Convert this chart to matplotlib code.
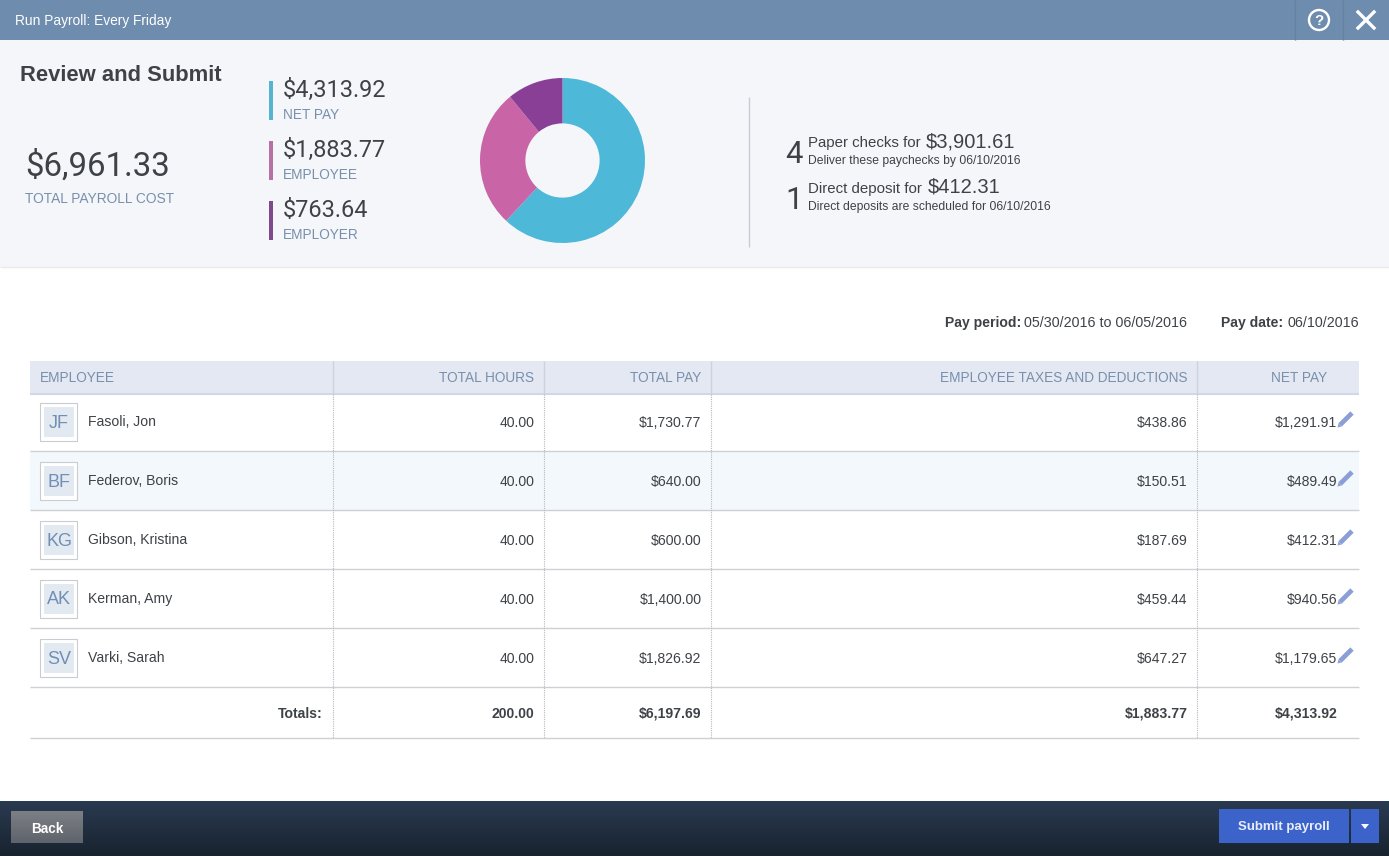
import numpy as np
import matplotlib
matplotlib.use('Agg')
import matplotlib.pyplot as plt
from matplotlib.patches import Rectangle, Circle, Polygon

employees = ['Fasoli, Jon', 'Federov, Boris', 'Gibson, Kristina', 'Kerman, Amy', 'Varki, Sarah']
initials = ['JF', 'BF', 'KG', 'AK', 'SV']
hours = ['40.00', '40.00', '40.00', '40.00', '40.00']
total_pay = ['$1,730.77', '$640.00', '$600.00', '$1,400.00', '$1,826.92']
taxes = ['$438.86', '$150.51', '$187.69', '$459.44', '$647.27']
net_pay = ['$1,291.91', '$489.49', '$412.31', '$940.56', '$1,179.65']
totals = ['200.00', '$6,197.69', '$1,883.77', '$4,313.92']
col_names = ['TOTAL HOURS', 'TOTAL PAY', 'EMPLOYEE TAXES AND DEDUCTIONS', 'NET PAY']
donut_labels = ['NET PAY', 'EMPLOYEE', 'EMPLOYER']
donut_text = ['$4,313.92', '$1,883.77', '$763.64']
donut_values = [4313.92, 1883.77, 763.64]
donut_colors = ['#4DB8D8', '#C965A6', '#8A3F96']
bar_colors = ['#55B4D0', '#B86FA5', '#7F4A8C']

W, H = 1389, 856
SANS = 'Liberation Sans'
NUM = 'Roboto'
DARK = '#3E4247'
BLUE = '#7890AC'

def px(size):  # font size in screen pixels
    return size * 0.72

fig = plt.figure(figsize=(W / 100, H / 100), dpi=100)
ax = fig.add_axes([0, 0, 1, 1])
ax.axis('off')

def box(x0, y0, x1, y1, color, **kw):
    ax.add_patch(Rectangle((x0, y0), x1 - x0, y1 - y0, facecolor=color, edgecolor=kw.pop('edge', 'none'), **kw))

def gradient(x0, y0, x1, y1, top, bottom):
    c0 = np.array(matplotlib.colors.to_rgb(top))
    c1 = np.array(matplotlib.colors.to_rgb(bottom))
    t = np.linspace(0, 1, 64)[:, None, None]
    ax.imshow(c0 + (c1 - c0) * t, extent=(x0, x1, y1, y0), aspect='auto', zorder=1)

def label(x, y, s, size, color=DARK, ha='left', family=SANS, weight='normal'):
    ax.text(x, y + 3, s, fontsize=px(size), color=color, ha=ha, va='center', family=family, weight=weight, zorder=5)

def vline(x, y0, y1, color, lw=1, **kw):
    ax.plot([x, x], [y0, y1], color=color, lw=lw, solid_capstyle='butt', **kw)

def hline(y, x0, x1, color, lw=1, **kw):
    ax.plot([x0, x1], [y, y], color=color, lw=lw, solid_capstyle='butt', **kw)

# title bar
box(0, 0, W, 40, '#6E8CAD')
box(0, 40, W, 267, '#F4F6FA')
hline(267, 0, W, '#E8EAEE', zorder=2)
label(15, 18, 'Run Payroll: Every Friday', 13.8, 'white')
for x in [1295, 1343]:
    vline(x, 0, 40, '#64829F', zorder=3)
ax.add_patch(Circle((1319, 20), 10, facecolor='none', edgecolor='white', lw=1.7, zorder=4))
label(1319, 18, '?', 15, 'white', ha='center', weight='bold')
ax.plot([1358, 1374], [12, 28], color='white', lw=2.4, zorder=4)
ax.plot([1358, 1374], [28, 12], color='white', lw=2.4, zorder=4)

# summary panel
label(20, 72, 'Review and Submit', 22, DARK, weight='bold')
label(25, 163, '$6,961.33', 33, DARK, family=NUM)
label(25, 196, 'TOTAL PAYROLL COST', 13.7, BLUE)
for i, y in enumerate([81, 141, 201]):
    box(269, y, 273, y + 39, bar_colors[i], zorder=3)
    label(283, y + 6, donut_text[i], 23.5, DARK, family=NUM)
    label(283, y + 31, donut_labels[i], 13.6, BLUE)

# donut
pie_ax = fig.add_axes([(562.5 - 84) / W, 1 - (160.5 + 84) / H, 168 / W, 168 / H])
pie_ax.pie(donut_values, colors=donut_colors, startangle=90, counterclock=False,
           radius=1.0, wedgeprops={'width': 0.55, 'linewidth': 0})
pie_ax.set_xlim(-84 / 82.5, 84 / 82.5)
pie_ax.set_ylim(-84 / 82.5, 84 / 82.5)

vline(749, 97, 247, '#C9CDD2')
label(785.5, 151, '4', 31, DARK, family=NUM)
label(785.5, 197, '1', 31, DARK, family=NUM)
label(808, 140, 'Paper checks for', 15, DARK)
label(926, 139, '$3,901.61', 20.2, DARK)
label(808, 158, 'Deliver these paychecks by 06/10/2016', 12.1, DARK)
label(808, 186, 'Direct deposit for', 15, DARK)
label(928, 184, '$412.31', 20.2, DARK)
label(808, 204, 'Direct deposits are scheduled for 06/10/2016', 12.1, DARK)

# pay period line
label(945, 320, 'Pay period:', 14, DARK, weight='bold')
label(1024, 320, '05/30/2016 to 06/05/2016', 14.3, DARK)
label(1221, 320, 'Pay date:', 14, DARK, weight='bold')
label(1287, 320, '06/10/2016', 14.3, DARK)

# table
box(30, 361, 1359, 394, '#E3E8F2')
hline(393.5, 30, 1359, '#CFD8E6', lw=1.5, zorder=3)
box(30, 451, 1359, 510, '#F3F8FD')
label(40, 375, 'EMPLOYEE', 13.6, BLUE)
col_right = [534, 701, 1187, 1327]
for x, name in zip(col_right, col_names):
    label(x, 375, name, 13.6, BLUE, ha='right')

col_lines = [333, 544, 711, 1197]
for x in col_lines:
    vline(x, 361, 394, '#CBD3E0', zorder=3)
    ax.plot([x, x], [394, 738], color='#B5B9BE', lw=0.8, ls=(0, (1, 1)), zorder=3)

for i, name in enumerate(employees):
    yc = 421 + 59 * i
    hline(yc + 30, 30, 1359, '#CDD1D6', zorder=2)
    box(40, yc - 18, 77, yc + 20, 'white', edge='#C9CCD0', lw=0.8, zorder=2)
    box(44, yc - 14, 74, yc + 16, '#E3E9F1', zorder=3)
    label(59, yc - 1, initials[i], 18, '#6F8FB5', ha='center')
    label(88, yc - 2, name, 14, DARK)
    label(col_right[0], yc - 1, hours[i], 14, DARK, ha='right')
    label(col_right[1] + 0.5, yc - 1, total_pay[i], 14, DARK, ha='right')
    label(col_right[2] + 0.5, yc - 1, taxes[i], 14, DARK, ha='right')
    label(1337, yc - 1, net_pay[i], 14, DARK, ha='right')
    # pencil icon
    ax.plot([1340, 1352], [yc + 4, yc - 8], color='#8A9FD8', lw=3.4, solid_capstyle='butt', zorder=4)
    ax.add_patch(Polygon([[1337.5, yc + 6.5], [1338.5, yc + 2.5], [1341.5, yc + 5.5]], facecolor='#8A9FD8', zorder=4))

label(323, 711, 'Totals:', 14, DARK, ha='right', weight='bold')
for x, v in zip([534, 701, 1187, 1337], totals):
    label(x + 0.5, 711, v, 14, DARK, ha='right', weight='bold')
hline(738, 30, 1359, '#CDD1D6', zorder=2)

# footer
gradient(0, 801, W, 856, '#2A3A50', '#18232F')
gradient(11, 811, 83, 843, '#7C7F85', '#5F636B')
label(47, 826, 'Back', 13.5, 'white', ha='center', weight='bold')
box(1219, 809, 1349, 843, '#3C63CA', zorder=3)
box(1351, 809, 1379, 843, '#3C63CA', zorder=3)
label(1284, 824, 'Submit payroll', 13.2, '#E8EDF8', ha='center', weight='bold')
ax.add_patch(Polygon([[1361, 824], [1369, 824], [1365, 829]], facecolor='white', zorder=5))

ax.set_xlim(0, W)
ax.set_ylim(H, 0)

fig.savefig('out.png', dpi=100)
